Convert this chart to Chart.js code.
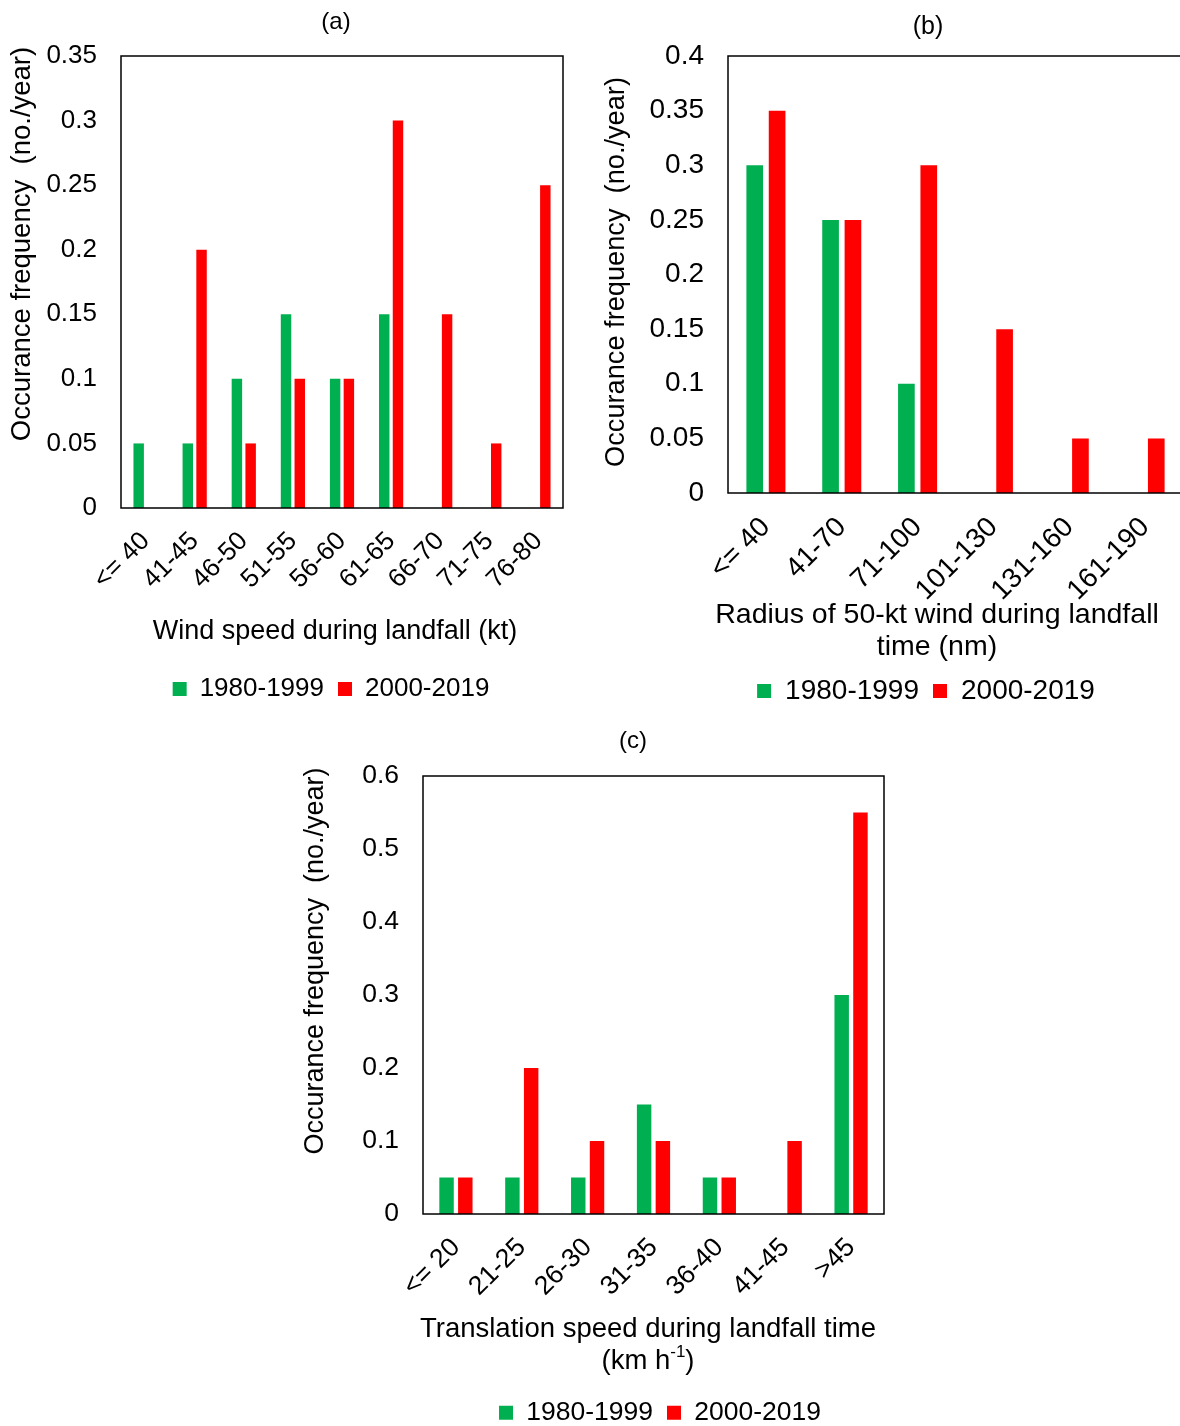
<!DOCTYPE html>
<html>
<head>
<meta charset="utf-8">
<script src="https://cdn.jsdelivr.net/npm/chart.js@4.4.1/dist/chart.umd.min.js"></script>
<style>
  html, body { margin: 0; padding: 0; background: #fff; width: 1180px; height: 1426px; overflow: hidden; position: relative; }
  canvas { position: absolute; }
  #cA { left: 0px; top: 0px; }
  #cB { left: 590px; top: 0px; }
  #cC { left: 290px; top: 720px; }
</style>
</head>
<body>
<canvas id="cA" width="662" height="712"></canvas>
<canvas id="cB" width="672" height="715"></canvas>
<canvas id="cC" width="740" height="716"></canvas>
<script>
// ---------------- DATA ----------------
const seriesNames = ['1980-1999', '2000-2019'];

const catsA = ['<= 40', '41-45', '46-50', '51-55', '56-60', '61-65', '66-70', '71-75', '76-80'];
const a1980 = [0.05, 0.05, 0.10, 0.15, 0.10, 0.15, 0, 0, 0];
const a2000 = [0, 0.20, 0.05, 0.10, 0.10, 0.30, 0.15, 0.05, 0.25];

const catsB = ['<= 40', '41-70', '71-100', '101-130', '131-160', '161-190'];
const b1980 = [0.30, 0.25, 0.10, 0, 0, 0];
const b2000 = [0.35, 0.25, 0.30, 0.15, 0.05, 0.05];

const catsC = ['<= 20', '21-25', '26-30', '31-35', '36-40', '41-45', '>45'];
const c1980 = [0.05, 0.05, 0.05, 0.15, 0.05, 0, 0.30];
const c2000 = [0.05, 0.20, 0.10, 0.10, 0.05, 0.10, 0.55];

const yMaxA = 0.35, yStepA = 0.05;
const yMaxB = 0.4,  yStepB = 0.05;
const yMaxC = 0.6,  yStepC = 0.1;

const yTitle = 'Occurance frequency  (no./year)';
const xTitleA = ['Wind speed during landfall (kt)'];
const xTitleB = ['Radius of 50-kt wind during landfall', 'time (nm)'];
const xTitleC = ['Translation speed during landfall time'];
// ---------------------------------------

const FONT = '"Liberation Sans", Arial, Helvetica, sans-serif';
const GREEN = '#00B050';
const RED = '#FF0000';
const TXT = '#000000';

function fmt(v) { return String(Math.round(v * 1000) / 1000); }

function textPlugin(items) {
  return {
    id: 'textLabels',
    afterDraw(chart) {
      const ctx = chart.ctx;
      items.forEach(it => {
        ctx.save();
        ctx.translate(it.x, it.y);
        if (it.rot) ctx.rotate(it.rot * Math.PI / 180);
        ctx.fillStyle = TXT;
        ctx.textBaseline = 'middle';
        ctx.textAlign = 'left';
        const segs = Array.isArray(it.segs) ? it.segs : [{ t: it.text }];
        const widths = segs.map(s => {
          ctx.font = (s.sup ? Math.round(it.size * 0.6) : it.size) + 'px ' + FONT;
          return ctx.measureText(s.t).width;
        });
        const total = widths.reduce((a, b) => a + b, 0);
        let x = -total / 2;
        segs.forEach((s, i) => {
          ctx.font = (s.sup ? Math.round(it.size * 0.6) : it.size) + 'px ' + FONT;
          ctx.fillText(s.t, x, s.sup ? -it.size * 0.33 : 0);
          x += widths[i];
        });
        ctx.restore();
      });
    }
  };
}

const framePlugin = {
  id: 'frame',
  afterDatasetsDraw(chart) {
    const { ctx, chartArea: a } = chart;
    ctx.save();
    ctx.strokeStyle = '#000';
    ctx.lineWidth = 1.5;
    ctx.strokeRect(a.left, a.top, a.right - a.left, a.bottom - a.top);
    ctx.restore();
  }
};

function makeChart(id, cats, s1, s2, cfg) {
  const ctx = document.getElementById(id);
  return new Chart(ctx, {
    type: 'bar',
    data: {
      labels: cats,
      datasets: [
        { label: seriesNames[0], data: s1, backgroundColor: GREEN, borderWidth: 0,
          categoryPercentage: cfg.catPct, barPercentage: cfg.barPct },
        { label: seriesNames[1], data: s2, backgroundColor: RED, borderWidth: 0,
          categoryPercentage: cfg.catPct, barPercentage: cfg.barPct }
      ]
    },
    options: {
      responsive: false,
      animation: false,
      devicePixelRatio: 1,
      layout: { padding: { top: cfg.top, left: 0, right: 0, bottom: 0 } },
      plugins: {
        title: { display: false },
        tooltip: { enabled: false },
        legend: {
          display: true,
          position: 'bottom',
          labels: {
            boxWidth: 14, boxHeight: 14, padding: 14, color: TXT,
            font: { family: FONT, size: cfg.fs }
          }
        }
      },
      scales: {
        x: {
          type: 'category',
          position: 'bottom',
          grid: { display: false, drawTicks: false },
          border: { display: false },
          ticks: {
            autoSkip: false, maxRotation: 45, minRotation: 45, padding: cfg.xPad,
            color: TXT, font: { family: FONT, size: cfg.fs }
          },
          afterFit: s => { s.height = cfg.xH; }
        },
        y: {
          type: 'linear',
          position: 'left',
          min: 0, max: cfg.yMax,
          grid: { display: false, drawTicks: false },
          border: { display: false },
          ticks: {
            stepSize: cfg.yStep, padding: 24, color: TXT,
            font: { family: FONT, size: cfg.fs },
            callback: v => fmt(v)
          },
          afterFit: s => { s.width = cfg.yW; }
        },
        yR: {
          type: 'linear',
          position: 'right',
          display: true,
          grid: { display: false, drawTicks: false },
          border: { display: false },
          ticks: { display: false },
          afterFit: s => { s.width = cfg.rW; }
        }
      }
    },
    plugins: [framePlugin, textPlugin(cfg.texts)]
  });
}

// Chart (a): canvas at page (0,0)
makeChart('cA', catsA, a1980, a2000, {
  catPct: 0.56, barPct: 0.76, top: 56, xH: 154, yW: 121, rW: 662 - 563, xPad: 18, fs: 26,
  yMax: yMaxA, yStep: yStepA,
  texts: [
    { text: '(a)', x: 336, y: 22, size: 24 },
    { text: yTitle, x: 22, y: 244, rot: -90, size: 27.5 },
    { text: xTitleA[0], x: 335, y: 632, size: 27 }
  ]
});

// Chart (b): canvas at page (590,0)
makeChart('cB', catsB, b1980, b2000, {
  catPct: 0.59, barPct: 0.745, top: 56, xH: 170, yW: 138, rW: 672 - 593, xPad: 18, fs: 28,
  yMax: yMaxB, yStep: yStepB,
  texts: [
    { text: '(b)', x: 338, y: 27, size: 25 },
    { text: yTitle, x: 27, y: 272, rot: -90, size: 27.2 },
    { text: xTitleB[0], x: 347, y: 615, size: 28.5 },
    { text: xTitleB[1], x: 347, y: 647, size: 28.5 }
  ]
});

// Chart (c): canvas at page (290,720)
makeChart('cC', catsC, c1980, c2000, {
  catPct: 0.57, barPct: 0.77, top: 56, xH: 171.5, yW: 133, rW: 740 - 594, xPad: 18, fs: 26.5,
  yMax: yMaxC, yStep: yStepC,
  texts: [
    { text: '(c)', x: 343, y: 21, size: 24 },
    { text: yTitle, x: 26, y: 241, rot: -90, size: 27 },
    { text: xTitleC[0], x: 358, y: 609, size: 27.5 },
    { segs: [{ t: '(km h' }, { t: '-1', sup: true }, { t: ')' }], x: 358, y: 641, size: 27.5 }
  ]
});
</script>
</body>
</html>
